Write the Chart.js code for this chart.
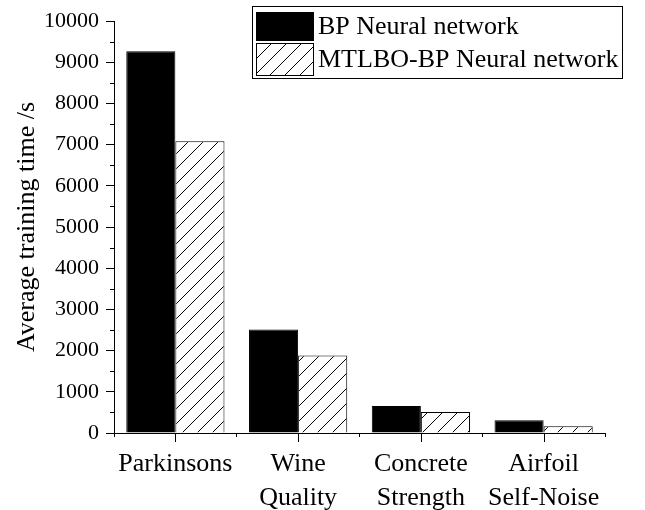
<!DOCTYPE html>
<html>
<head>
<meta charset="utf-8">
<script src="https://cdn.jsdelivr.net/npm/chart.js@4.4.0/dist/chart.umd.min.js"></script>
<style>
html, body { margin: 0; padding: 0; background: #fff; }
#wrap { width: 645px; height: 510px; }
</style>
</head>
<body>
<div id="wrap"><canvas id="barChart" width="645" height="510"></canvas></div>
<script>
// data
var categories = [["Parkinsons"], ["Wine", "Quality"], ["Concrete", "Strength"], ["Airfoil", "Self-Noise"]];
var bpTimes = [9265, 2510, 655, 310];
var mtlboTimes = [7080, 1880, 510, 165];
var seriesNames = ["BP Neural network", "MTLBO-BP Neural network"];
var yMin = 0, yMax = 10000, yStep = 1000;

var FONT = "'Liberation Serif', 'Times New Roman', serif";

// diagonal hatch
function makeHatch() {
  var c = document.createElement('canvas');
  c.width = 15; c.height = 15;
  var g = c.getContext('2d');
  g.fillStyle = '#fff';
  g.fillRect(0, 0, 15, 15);
  g.strokeStyle = '#000';
  g.lineWidth = 1;
  g.beginPath();
  g.moveTo(0, 15); g.lineTo(15, 0);
  g.moveTo(-2, 2); g.lineTo(2, -2);
  g.moveTo(13, 17); g.lineTo(17, 13);
  g.stroke();
  return g.createPattern(c, 'repeat');
}
var hatch = makeHatch();

var extras = {
  id: 'extras',
  afterDraw: function (chart) {
    var ctx = chart.ctx, xs = chart.scales.x, ys = chart.scales.y;
    ctx.save();
    ctx.strokeStyle = '#000';
    ctx.lineWidth = 1;
    ctx.beginPath();
    // minor y ticks
    for (var v = yMin + yStep / 2; v < yMax; v += yStep) {
      var py = Math.round(ys.getPixelForValue(v)) + 0.5;
      ctx.moveTo(xs.left - 4, py); ctx.lineTo(xs.left, py);
    }
    // long ticks under category centres
    for (var i = 0; i < categories.length; i++) {
      var px = Math.round(xs.getPixelForValue(i)) + 0.5;
      ctx.moveTo(px, ys.bottom); ctx.lineTo(px, ys.bottom + 9);
    }
    ctx.stroke();

    // legend box
    var lx = 252, ly = 6, lw = 370, lh = 72;
    ctx.strokeRect(lx + 0.5, ly + 0.5, lw, lh);
    var swY = [12, 43], swH = [28, 32];
    ctx.font = "26px " + FONT;
    ctx.textBaseline = 'middle';
    for (var k = 0; k < seriesNames.length; k++) {
      var ds = chart.data.datasets[k];
      ctx.fillStyle = ds.backgroundColor;
      ctx.fillRect(256, swY[k], 57, swH[k]);
      ctx.strokeRect(256.5, swY[k] + 0.5, 57, swH[k]);
      ctx.fillStyle = '#000';
      ctx.fillText(seriesNames[k], 318, swY[k] + swH[k] / 2 + 1);
    }
    ctx.restore();
  }
};

var ctx = document.getElementById('barChart').getContext('2d');
var myChart = new Chart(ctx, {
  type: 'bar',
  data: {
    labels: categories,
    datasets: [{
      label: seriesNames[0],
      data: bpTimes,
      backgroundColor: '#000',
      borderColor: '#000',
      borderWidth: 1
    }, {
      label: seriesNames[1],
      data: mtlboTimes,
      backgroundColor: hatch,
      borderColor: '#000',
      borderWidth: 1
    }]
  },
  options: {
    responsive: false,
    animation: false,
    layout: { padding: { top: 21, right: 40, left: 0, bottom: 0 } },
    plugins: { legend: { display: false }, tooltip: { enabled: false } },
    datasets: { bar: { barPercentage: 1, categoryPercentage: 0.8 } },
    scales: {
      x: {
        offset: true,
        grid: { display: true, offset: true, drawOnChartArea: false, tickLength: 4, color: '#000' },
        border: { display: true, color: '#000', width: 1 },
        ticks: { color: '#000', font: { family: FONT, size: 26, lineHeight: 1.3 }, padding: 10, maxRotation: 0 },
        afterFit: function (s) { s.height = 77; }
      },
      y: {
        min: yMin, max: yMax,
        grid: { display: true, drawOnChartArea: false, tickLength: 8, color: '#000' },
        border: { display: true, color: '#000', width: 1 },
        ticks: {
          stepSize: yStep, color: '#000', font: { family: FONT, size: 22 }, padding: 7,
          callback: function (value) { return String(value); }
        },
        title: { display: true, text: 'Average training time /s', color: '#000', font: { family: FONT, size: 26 }, padding: { top: 12, bottom: 0 } },
        afterFit: function (s) { s.width = 114; }
      }
    }
  },
  plugins: [extras]
});
</script>
</body>
</html>
